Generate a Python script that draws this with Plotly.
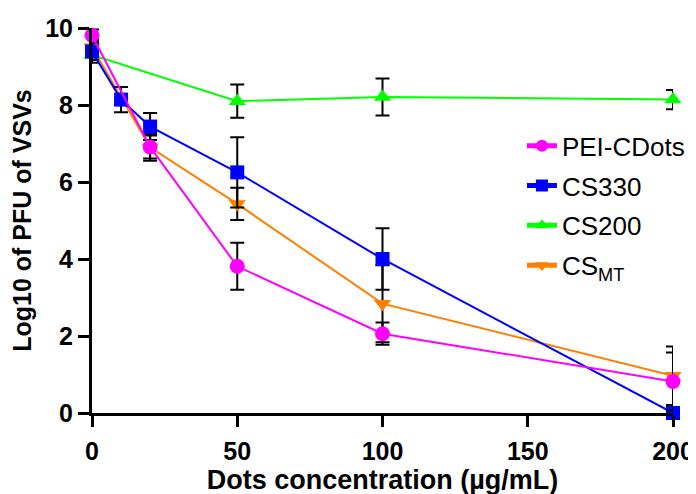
import plotly.graph_objects as go

conc = [0, 10, 20, 50, 100, 200]
conc_pei = [0, 20, 50, 100, 200]
pei = [9.81, 6.91, 3.81, 2.06, 0.82]
pei_err = [0.15, 0.3, 0.61, 0.29, 0.75]
cs330 = [9.39, 8.14, 7.44, 6.25, 4.0, 0.0]
cs330_err = [0.22, 0.33, 0.35, 0.91, 0.8, 0.05]
conc_200 = [0, 50, 100, 200]
cs200 = [9.3, 8.1, 8.21, 8.14]
cs200_err = [0.2, 0.43, 0.48, 0.25]
conc_mt = [0, 20, 50, 100, 200]
csmt = [9.5, 6.9, 5.43, 2.84, 0.97]
csmt_err = [0.2, 0.35, 0.42, 1.0, 0.76]

font = "Liberation Sans, Arial, sans-serif"

def err(v):
    return dict(type="data", array=v, visible=True, color="black", thickness=2, width=7)

fig = go.Figure()
fig.add_trace(go.Scatter(x=conc_200, y=cs200, name="CS200", legendrank=3, legendgroup="c",
                         mode="lines+markers", line=dict(color="#00FF00", width=2),
                         marker=dict(symbol="triangle-up", size=15, color="#00FF00"),
                         error_y=err(cs200_err), cliponaxis=False))
fig.add_trace(go.Scatter(x=conc_mt, y=csmt, name="CS<sub>MT</sub>", legendrank=4, legendgroup="d",
                         mode="lines+markers", line=dict(color="#FF7F00", width=2),
                         marker=dict(symbol="triangle-down", size=15, color="#FF7F00"),
                         error_y=err(csmt_err), cliponaxis=False))
fig.add_trace(go.Scatter(x=conc, y=cs330, name="CS330", legendrank=2, legendgroup="b",
                         mode="lines+markers", line=dict(color="#0000FF", width=2),
                         marker=dict(symbol="square", size=14, color="#0000FF"),
                         error_y=err(cs330_err), cliponaxis=False))
fig.add_trace(go.Scatter(x=conc_pei, y=pei, name="PEI-CDots", legendrank=1, legendgroup="a",
                         mode="lines+markers", line=dict(color="#FF00FF", width=2),
                         marker=dict(symbol="circle", size=15, color="#FF00FF"),
                         error_y=err(pei_err), cliponaxis=False))

fig.update_layout(
    width=696, height=494,
    margin=dict(l=84, r=31, t=20, b=89, autoexpand=False),
    paper_bgcolor="white", plot_bgcolor="white",
    font=dict(family=font, color="black"),
    legend=dict(x=0.74, y=0.755, xanchor="left", yanchor="top",
                font=dict(size=26, family=font), bgcolor="rgba(0,0,0,0)",
                tracegroupgap=3, itemsizing="constant", itemwidth=30),
    xaxis=dict(range=[0, 200], tickvals=[0, 50, 100, 150, 200], automargin=False,
               showline=True, linecolor="black", linewidth=3,
               ticks="outside", ticklen=11, tickwidth=3, tickcolor="black",
               showgrid=False, zeroline=False, ticklabelstandoff=3,
               tickfont=dict(size=25, family=font, weight="bold"),
               title=dict(text="Dots concentration (µg/mL)", font=dict(size=27, family=font, weight="bold"), standoff=6)),
    yaxis=dict(range=[0, 10], tickvals=[0, 2, 4, 6, 8, 10], automargin=False,
               showline=True, linecolor="black", linewidth=3,
               ticks="outside", ticklen=11, tickwidth=3, tickcolor="black",
               showgrid=False, zeroline=False,
               tickfont=dict(size=25, family=font, weight="bold"),
               title=dict(text="Log10 of PFU of VSVs", font=dict(size=25, family=font, weight="bold"), standoff=8)),
)
fig.write_html("out.html")
